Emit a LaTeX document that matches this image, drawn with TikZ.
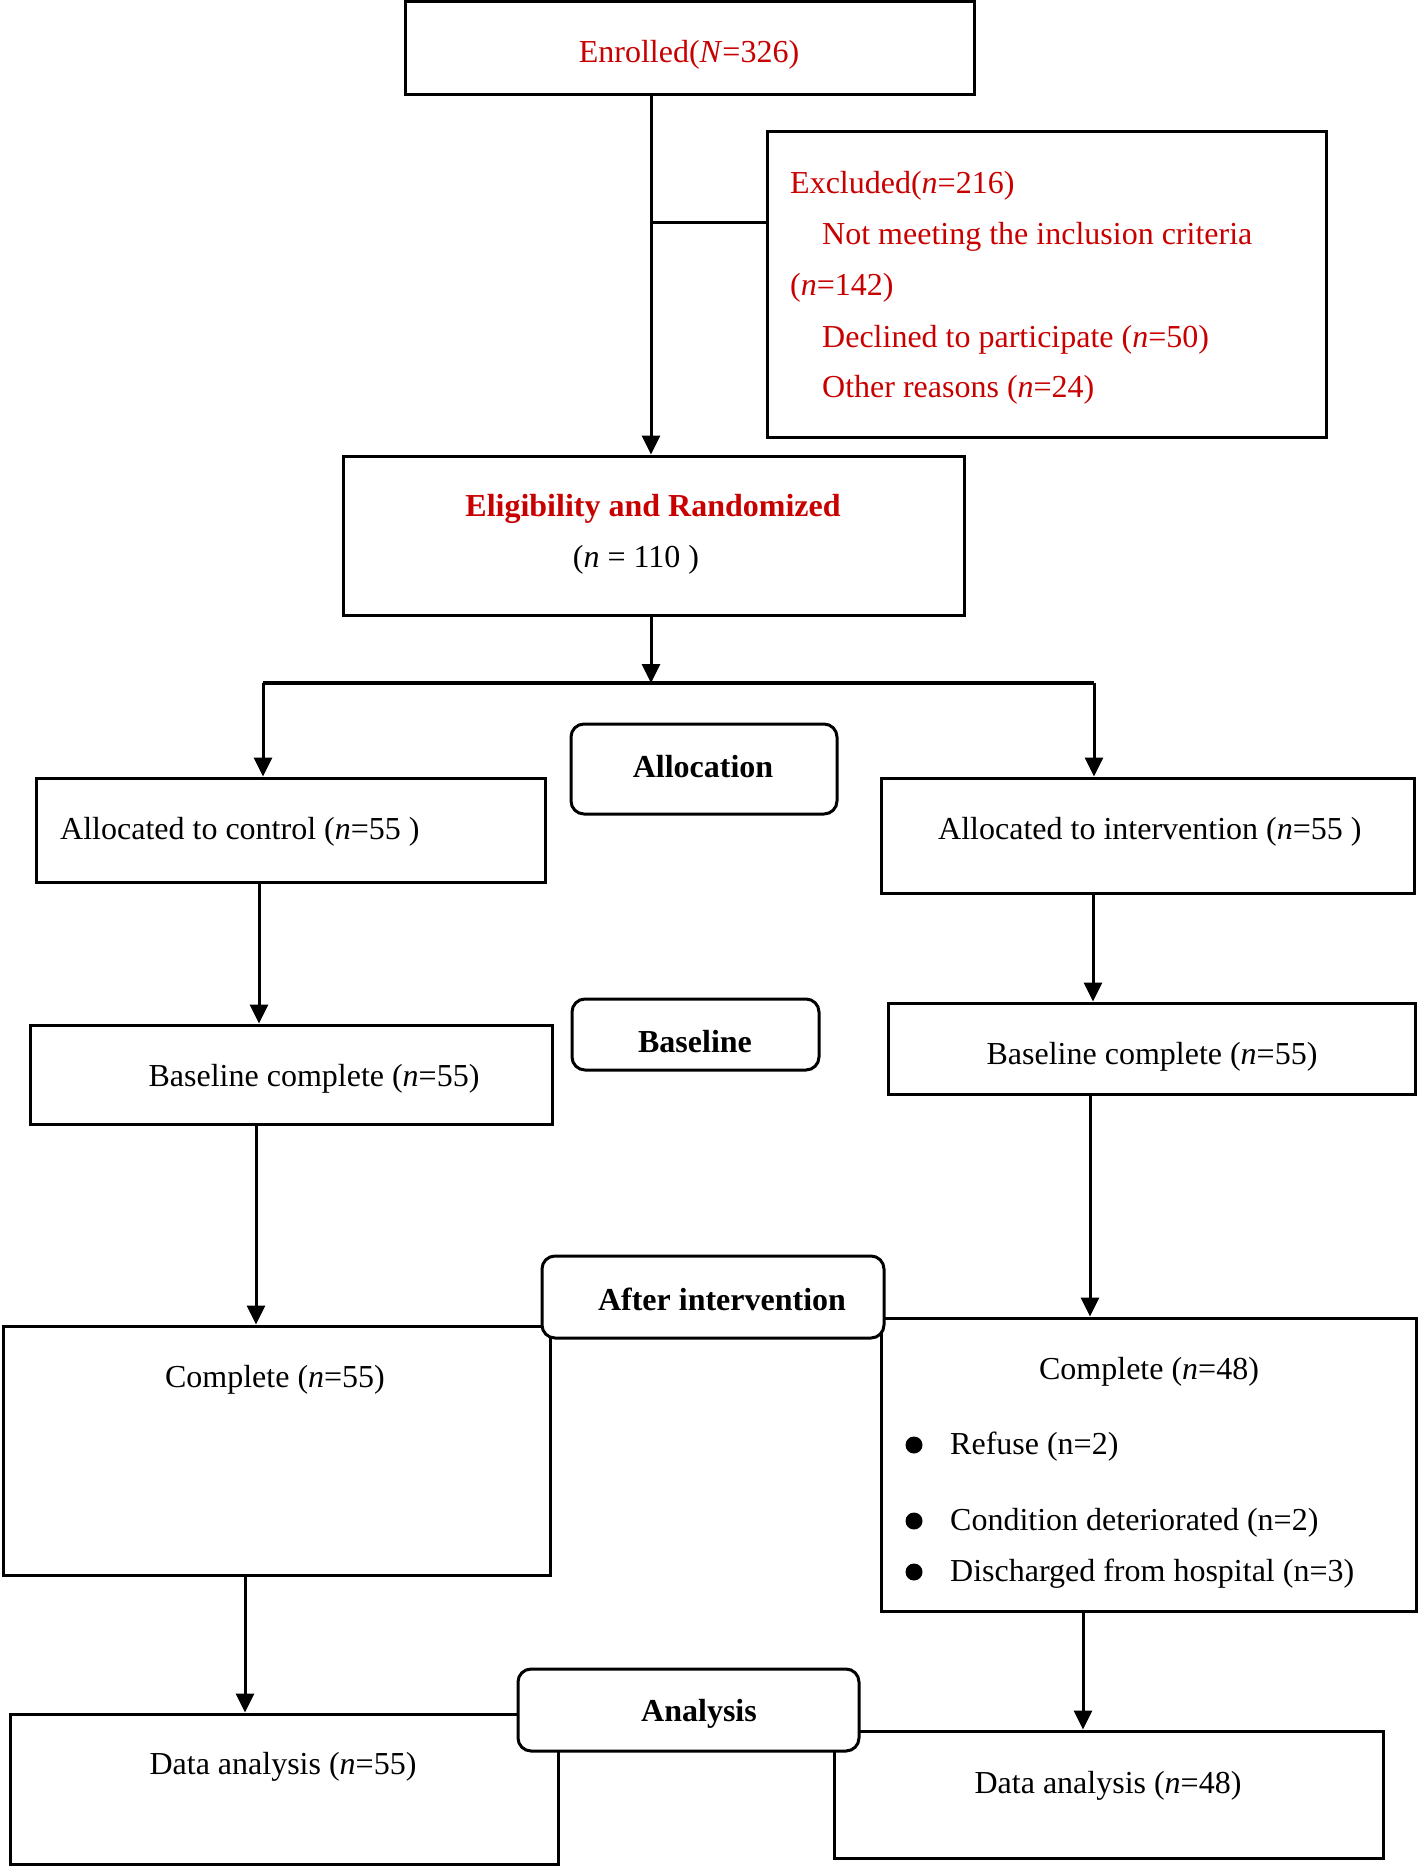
\documentclass[tikz,border=0pt]{standalone}
\usepackage{fontspec}
\setmainfont{Liberation Serif}
\usetikzlibrary{arrows.meta,calc}
\definecolor{cred}{RGB}{200,0,0}
\begin{document}
\begin{tikzpicture}[x=1pt,y=-1pt,
  font=\fontsize{32}{38}\selectfont,
  box/.style={draw, line width=3pt, rectangle, inner sep=0pt},
  rbox/.style={draw, line width=3pt, rectangle, rounded corners=13pt, fill=white, inner sep=0pt},
  txt/.style={inner sep=0pt, yshift=-3.5pt},
  btxt/.style={inner sep=0pt, font=\fontsize{32}{38}\selectfont\bfseries},
  arr/.style={-{Triangle[length=19pt,width=18pt]}, line width=3pt},
  ln/.style={line width=3pt},
  bul/.style={circle, fill=black, inner sep=0pt, minimum size=17pt}]
\useasboundingbox (0,0) rectangle (1420,1867);
\fill[white] (0,0) rectangle (1420,1867);

% plain boxes
\node[box, minimum width=569pt, minimum height=93pt] (enr) at (689.5,48) {};
\node[box, minimum width=559pt, minimum height=305pt] (exc) at (1046.5,284.5) {};
\node[box, minimum width=621pt, minimum height=159pt] (elig) at (653.5,535.5) {};
\node[box, minimum width=509pt, minimum height=104pt] (ctrl) at (290.5,830) {};
\node[box, minimum width=533pt, minimum height=115pt] (intv) at (1147.5,835.5) {};
\node[box, minimum width=522pt, minimum height=99pt] (bl) at (291,1074.5) {};
\node[box, minimum width=527pt, minimum height=91pt] (br) at (1151.5,1048.5) {};
\node[box, minimum width=547pt, minimum height=249pt] (cl) at (276.5,1450.5) {};
\node[box, minimum width=535pt, minimum height=293pt] (cr) at (1149,1464.5) {};
\node[box, minimum width=548pt, minimum height=150pt] (dl) at (284,1789) {};
\node[box, minimum width=549pt, minimum height=127pt] (dr) at (1108.5,1794.5) {};

% rounded stage labels (drawn over box edges)
\node[rbox, minimum width=266pt, minimum height=90pt] (alloc) at (704,769) {};
\node[rbox, minimum width=247pt, minimum height=71pt] (base) at (695.5,1034.5) {};
\node[rbox, minimum width=342pt, minimum height=82pt] (after) at (713,1297) {};
\node[rbox, minimum width=341pt, minimum height=82pt] (anal) at (688.5,1710) {};

% texts
\node[txt, text=cred] (tenr) at (689,51) {Enrolled(\textit{N}=326)};
\node[txt, text=cred, anchor=west] (te1) at (790,182) {Excluded(\textit{n}=216)};
\node[txt, text=cred, anchor=west] (te2) at (822,233) {Not meeting the inclusion criteria};
\node[txt, text=cred, anchor=west] (te3) at (790,284) {(\textit{n}=142)};
\node[txt, text=cred, anchor=west] (te4) at (822,336) {Declined to participate (\textit{n}=50)};
\node[txt, text=cred, anchor=west] (te5) at (822,386) {Other reasons (\textit{n}=24)};
\node[btxt, text=cred] (tel1) at (653,509) {Eligibility and Randomized};
\node[txt] (tel2) at (636,556) {(\textit{n} = 110 )};
\node[btxt] (talloc) at (703,767) {Allocation};
\node[txt, anchor=west] (tctrl) at (60,828) {Allocated to control (\textit{n}=55 )};
\node[txt, anchor=west] (tintv) at (938,828) {Allocated to intervention (\textit{n}=55 )};
\node[btxt] (tbase) at (695,1042) {Baseline};
\node[txt] (tbl) at (314,1075) {Baseline complete (\textit{n}=55)};
\node[txt] (tbr) at (1152,1053) {Baseline complete (\textit{n}=55)};
\node[btxt] (tafter) at (722,1299) {After intervention};
\node[txt] (tcl) at (275,1376) {Complete (\textit{n}=55)};
\node[txt] (tcr) at (1149,1368) {Complete (\textit{n}=48)};
\node[bul] (b1) at (914,1445) {};
\node[bul] (b2) at (914,1521) {};
\node[bul] (b3) at (914,1572) {};
\node[txt, anchor=west] (tb1) at (950,1443) {Refuse (n=2)};
\node[txt, anchor=west] (tb2) at (950,1519) {Condition deteriorated (n=2)};
\node[txt, anchor=west] (tb3) at (950,1570) {Discharged from hospital (n=3)};
\node[btxt] (tanal) at (699,1714) {Analysis};
\node[txt] (tdl) at (283,1763) {Data analysis (\textit{n}=55)};
\node[txt] (tdr) at (1108,1782) {Data analysis (\textit{n}=48)};

% column coordinates
\coordinate (cM) at (651,0);
\coordinate (cL0) at (263,0);
\coordinate (cR0) at (1094,0);
\coordinate (cL1) at (259,0);
\coordinate (cR1) at (1093,0);
\coordinate (cL2) at (256,0);
\coordinate (cR2) at (1090,0);
\coordinate (cL3) at (245,0);
\coordinate (cR3) at (1083,0);
\coordinate (jx) at (0,223);
\coordinate (split) at (651,683);

% connectors
\draw[arr] (enr.south -| cM) -- (elig.north -| cM);
\draw[ln] (cM |- jx) -- (exc.west |- jx);
\draw[arr] (elig.south -| cM) -- (split);
\draw[ln, line width=3.4pt] (split -| cL0) -- (split -| cR0);
\draw[arr] (split -| cL0) -- (ctrl.north -| cL0);
\draw[arr] (split -| cR0) -- (intv.north -| cR0);
\draw[arr] (ctrl.south -| cL1) -- (bl.north -| cL1);
\draw[arr] (intv.south -| cR1) -- (br.north -| cR1);
\draw[arr] (bl.south -| cL2) -- (cl.north -| cL2);
\draw[arr] (br.south -| cR2) -- (cr.north -| cR2);
\draw[arr] (cl.south -| cL3) -- (dl.north -| cL3);
\draw[arr] (cr.south -| cR3) -- (dr.north -| cR3);
\end{tikzpicture}
\end{document}
